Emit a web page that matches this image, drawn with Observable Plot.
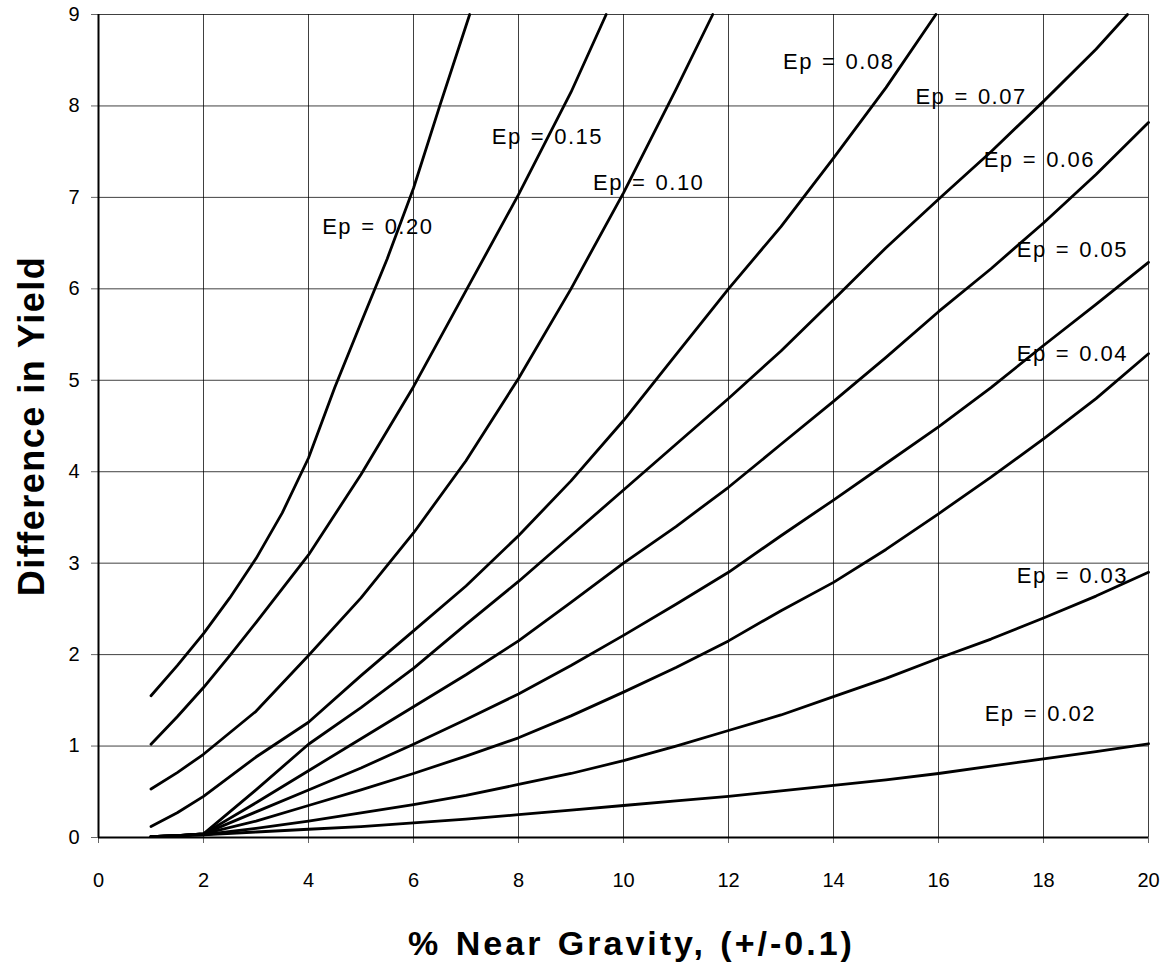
<!DOCTYPE html>
<html><head><meta charset="utf-8">
<script src="https://cdn.jsdelivr.net/npm/d3@7"></script>
<script src="https://cdn.jsdelivr.net/npm/@observablehq/plot@0.6"></script>
<style>body{margin:0;background:#fff}</style>
</head><body><div id="chart"></div>
<script>
// ---- data ----
const xTicks = [0, 2, 4, 6, 8, 10, 12, 14, 16, 18, 20];
const yTicks = [0, 1, 2, 3, 4, 5, 6, 7, 8, 9];

const ep020X = [1, 1.5, 2, 2.5, 3, 3.5, 4, 4.5, 5, 5.5, 6, 6.5, 7.07];
const ep020Y = [1.55, 1.88, 2.23, 2.62, 3.05, 3.55, 4.15, 4.92, 5.63, 6.33, 7.1, 8.0, 9.0];
const ep015X = [1, 1.5, 2, 2.5, 3, 4, 5, 6, 7, 8, 9, 9.67];
const ep015Y = [1.02, 1.32, 1.64, 1.99, 2.35, 3.09, 3.97, 4.93, 5.98, 7.03, 8.15, 9.0];
const ep010X = [1, 1.5, 2, 3, 4, 5, 6, 7, 8, 9, 10, 11, 11.7];
const ep010Y = [0.53, 0.71, 0.91, 1.38, 1.99, 2.62, 3.33, 4.12, 5.02, 6.0, 7.05, 8.18, 9.0];
const ep008X = [1, 1.5, 2, 3, 4, 5, 6, 7, 8, 9, 10, 11, 12, 13, 14, 15, 15.95];
const ep008Y = [0.12, 0.27, 0.45, 0.88, 1.26, 1.77, 2.26, 2.75, 3.3, 3.9, 4.56, 5.28, 6.0, 6.68, 7.43, 8.2, 9.0];
const ep007X = [1, 1.5, 2, 3, 4, 5, 6, 7, 8, 9, 10, 11, 12, 13, 14, 15, 16, 17, 18, 19, 19.6];
const ep007Y = [0.01, 0.02, 0.04, 0.52, 1.02, 1.42, 1.85, 2.33, 2.8, 3.3, 3.8, 4.3, 4.8, 5.32, 5.88, 6.45, 6.98, 7.5, 8.05, 8.62, 9.0];
const lowX = [1, 1.5, 2, 3, 4, 5, 6, 7, 8, 9, 10, 11, 12, 13, 14, 15, 16, 17, 18, 19, 20];
const ep006Y = [0.01, 0.02, 0.04, 0.38, 0.73, 1.08, 1.43, 1.78, 2.15, 2.57, 3.0, 3.4, 3.83, 4.3, 4.77, 5.25, 5.75, 6.22, 6.72, 7.25, 7.82];
const ep005Y = [0.01, 0.02, 0.04, 0.28, 0.52, 0.76, 1.02, 1.29, 1.57, 1.88, 2.21, 2.55, 2.9, 3.3, 3.69, 4.09, 4.49, 4.92, 5.38, 5.83, 6.29];
const ep004Y = [0.01, 0.02, 0.04, 0.18, 0.35, 0.52, 0.7, 0.89, 1.09, 1.33, 1.59, 1.86, 2.15, 2.48, 2.79, 3.15, 3.54, 3.94, 4.36, 4.8, 5.29];
const ep003Y = [0.01, 0.02, 0.03, 0.1, 0.18, 0.27, 0.36, 0.46, 0.58, 0.7, 0.84, 1.0, 1.17, 1.34, 1.54, 1.74, 1.96, 2.17, 2.4, 2.64, 2.9];
const ep002Y = [0.01, 0.02, 0.03, 0.06, 0.09, 0.12, 0.16, 0.2, 0.25, 0.3, 0.35, 0.4, 0.45, 0.51, 0.57, 0.63, 0.7, 0.78, 0.86, 0.94, 1.025];

const labelText = ["Ep = 0.20", "Ep = 0.15", "Ep = 0.10", "Ep = 0.08", "Ep = 0.07", "Ep = 0.06", "Ep = 0.05", "Ep = 0.04", "Ep = 0.03", "Ep = 0.02"];
const labelX = [4.26, 7.49, 9.42, 13.04, 15.56, 16.86, 17.49, 17.49, 17.49, 16.88];
const labelY = [6.68, 7.66, 7.16, 8.48, 8.10, 7.41, 6.42, 5.29, 2.86, 1.35];

const yTitle = "Difference in Yield";
const xTitle = "% Near Gravity, (+/-0.1)";

// ---- build table for the library ----
const seriesList = [
  ["0.20", ep020X, ep020Y], ["0.15", ep015X, ep015Y], ["0.10", ep010X, ep010Y],
  ["0.08", ep008X, ep008Y], ["0.07", ep007X, ep007Y], ["0.06", lowX, ep006Y],
  ["0.05", lowX, ep005Y], ["0.04", lowX, ep004Y], ["0.03", lowX, ep003Y], ["0.02", lowX, ep002Y]
];
const rows = seriesList.flatMap(([ep, xs, ys]) => xs.map((x, i) => ({ep, x, y: ys[i]})));
const labels = labelText.map((t, i) => ({t, x: labelX[i], y: labelY[i]}));

const font = "'Liberation Sans', Arial, Helvetica, sans-serif";

const chart = Plot.plot({
  width: 1162,
  height: 977,
  marginLeft: 98,
  marginRight: 14,
  marginTop: 14,
  marginBottom: 140,
  style: {fontFamily: font, background: "#fff", color: "#000"},
  x: {domain: [0, 20]},
  y: {domain: [0, 9]},
  marks: [
    Plot.gridX(xTicks, {stroke: "#000", strokeOpacity: 0.75, strokeWidth: 1}),
    Plot.gridY(yTicks, {stroke: "#000", strokeOpacity: 0.75, strokeWidth: 1}),
    Plot.axisX(xTicks, {tickSize: 6, tickPadding: 29, fontSize: 20, label: null, stroke: "#666", tickFormat: d3.format("d")}),
    Plot.axisY(yTicks, {tickSize: 7, tickPadding: 12, fontSize: 20, label: null, stroke: "#666", tickFormat: d3.format("d")}),
    Plot.ruleX([0], {stroke: "#000", strokeWidth: 2}),
    Plot.ruleY([0], {stroke: "#000", strokeWidth: 2}),
    Plot.line(rows, {x: "x", y: "y", z: "ep", stroke: "#000", strokeWidth: 2.8, strokeLinejoin: "round"}),
    Plot.text(labels, {x: "x", y: "y", text: "t", textAnchor: "start", fontSize: 22, fill: "#000"}),
    Plot.text([yTitle], {frameAnchor: "left", textAnchor: "middle", rotate: -90, dx: -66, fontSize: 36, fontWeight: "bold", fill: "#000"}),
    Plot.text([xTitle], {frameAnchor: "bottom", textAnchor: "middle", dx: 8, dy: 117, fontSize: 34, fontWeight: "bold", fill: "#000"})
  ]
});
document.getElementById("chart").appendChild(chart);

const svg = d3.select(chart);
svg.selectAll("text").filter(function () { return labelText.includes(this.textContent); })
  .style("letter-spacing", "1.5px").style("word-spacing", "1.5px");
svg.selectAll("text").filter(function () { return this.textContent === xTitle; })
  .style("letter-spacing", "3px").style("word-spacing", "2px");
svg.selectAll("text").filter(function () { return this.textContent === yTitle; })
  .style("letter-spacing", "1.5px");
</script></body></html>
